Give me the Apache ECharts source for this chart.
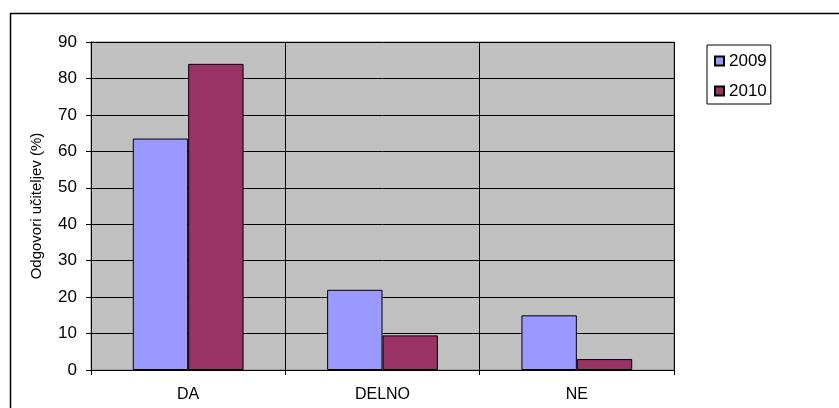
<!DOCTYPE html>
<html>
<head>
<meta charset="utf-8">
<script src="https://cdn.jsdelivr.net/npm/echarts@6/dist/echarts.min.js"></script>
<style>html,body{margin:0;padding:0;background:#fff;}#c{width:839px;height:408px;}</style>
</head>
<body>
<div id="c"></div>
<script>
const categories = ['DA', 'DELNO', 'NE'];
const seriesNames = ['2009', '2010'];
const values2009 = [63.5, 22, 15];
const values2010 = [84, 9.5, 3];
const yTicks = [0, 10, 20, 30, 40, 50, 60, 70, 80, 90];
const yAxisTitle = 'Odgovori učiteljev (%)';

const chart = echarts.init(document.getElementById('c'), null, {renderer: 'canvas'});
const font = 'Liberation Sans, Arial, sans-serif';
chart.setOption({
  animation: false,
  backgroundColor: '#ffffff',
  graphic: [{
    type: 'rect', z: -10,
    shape: {x: 10.5, y: 13.5, width: 900, height: 500},
    style: {fill: 'none', stroke: '#000', lineWidth: 1.5}
  }],
  grid: {left: 91, top: 42, right: 165, bottom: 38, show: true, backgroundColor: '#c0c0c0', borderColor: '#808080', borderWidth: 1},
  legend: {
    orient: 'vertical', left: 707, top: 45,
    data: seriesNames,
    itemWidth: 9, itemHeight: 9, itemGap: 12,
    padding: [7, 4, 4, 7],
    borderColor: '#000', borderWidth: 1,
    backgroundColor: '#fff',
    icon: 'rect',
    textStyle: {fontFamily: font, fontSize: 17, color: '#000', lineHeight: 18}
  },
  xAxis: {
    type: 'category', data: categories,
    axisLine: {lineStyle: {color: '#000', width: 1}},
    axisTick: {show: true, length: 5, lineStyle: {color: '#000'}},
    axisLabel: {fontFamily: font, fontSize: 16, color: '#000', margin: 17},
    splitLine: {show: true, lineStyle: {color: '#000', width: 1}}
  },
  yAxis: {
    type: 'value', min: 0, max: 90, interval: 10,
    name: yAxisTitle, nameLocation: 'middle', nameGap: 47,
    nameTextStyle: {fontFamily: font, fontSize: 15, color: '#000'},
    axisLine: {show: true, lineStyle: {color: '#000', width: 1}},
    axisTick: {show: true, length: 5, lineStyle: {color: '#000'}},
    axisLabel: {fontFamily: font, fontSize: 17, color: '#000', margin: 14,
      formatter: v => yTicks.includes(v) ? String(v) : ''},
    splitLine: {show: true, lineStyle: {color: '#000', width: 1}}
  },
  series: [
    {name: seriesNames[0], type: 'bar', data: values2009, barGap: '0%', barCategoryGap: '43%',
      itemStyle: {color: '#9999ff', borderColor: '#000', borderWidth: 1}},
    {name: seriesNames[1], type: 'bar', data: values2010, barGap: '0%', barCategoryGap: '43%',
      itemStyle: {color: '#993366', borderColor: '#000', borderWidth: 1}}
  ]
});
</script>
</body>
</html>
